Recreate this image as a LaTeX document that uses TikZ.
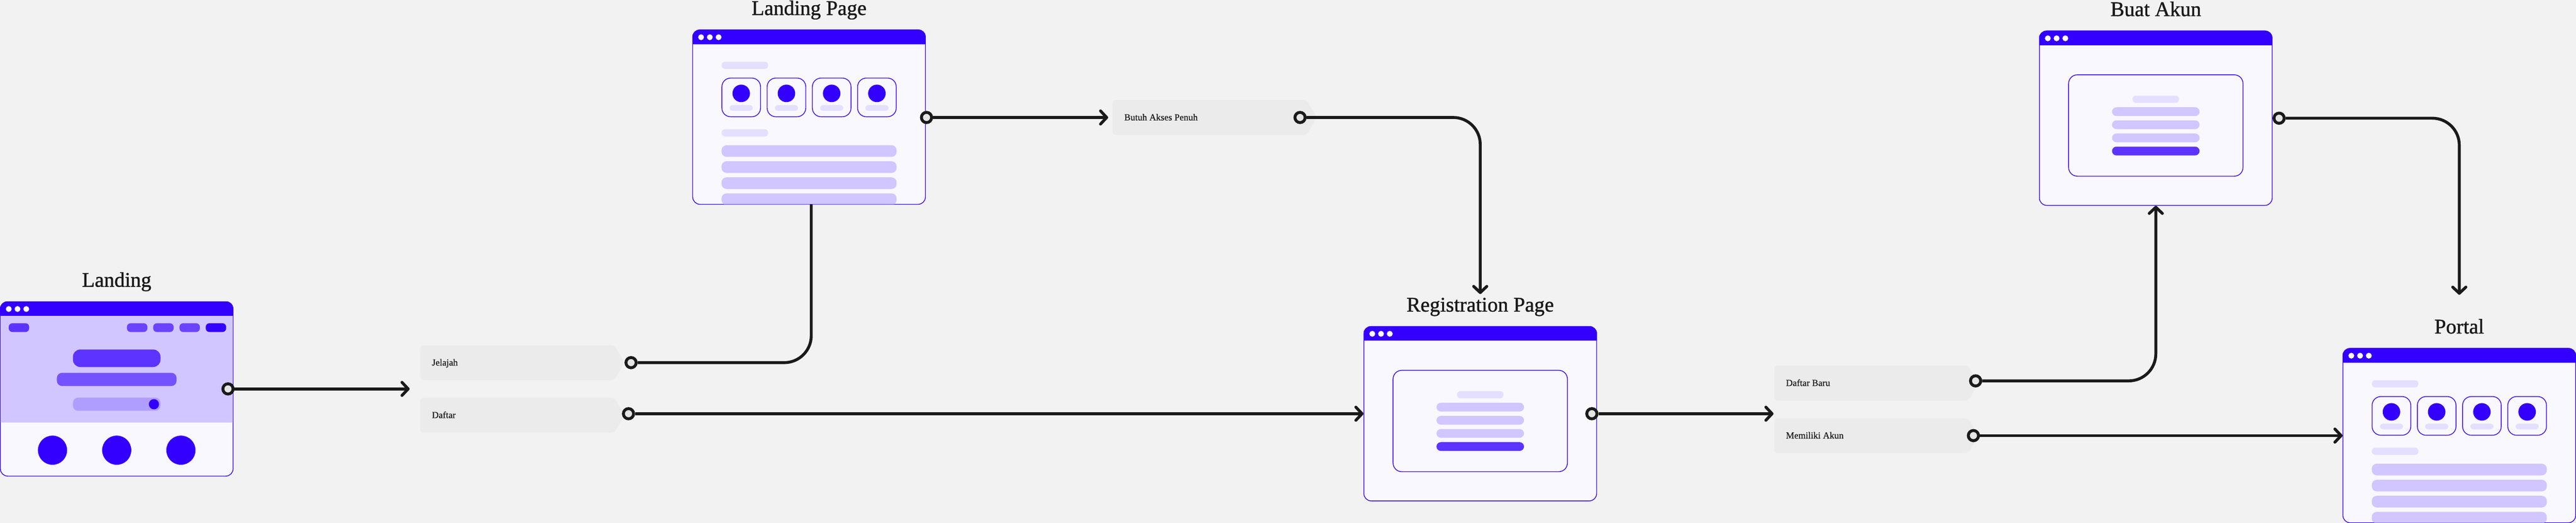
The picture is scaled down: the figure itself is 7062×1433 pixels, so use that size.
\documentclass[tikz,border=0pt]{standalone}
\usepackage{fontspec}
\setmainfont{Liberation Serif}
\newfontfamily\titlefont[FakeBold=1.2]{Liberation Serif}
\newfontfamily\tagfont[FakeBold=0.8]{Liberation Serif}
\usepackage{tikz}
\usetikzlibrary{arrows.meta}
\definecolor{winblue}{HTML}{3300FF}
\definecolor{winpaper}{HTML}{F9F8FF}
\definecolor{barpale}{HTML}{E5DFFF}
\definecolor{barsoft}{HTML}{D1C6FF}
\definecolor{barmid}{HTML}{B09EFF}
\definecolor{barstrong}{HTML}{5C33FF}
\definecolor{barlight}{HTML}{7452FF}
\definecolor{ink}{HTML}{1A1A1A}
\tikzset{
  winframe/.style={draw=winblue, fill=winpaper, line width=2pt, rounded corners=20pt, minimum width=638pt, minimum height=478pt, inner sep=0pt},
  wintitle/.style={text=ink, font=\titlefont\fontsize{57}{62}\selectfont, inner sep=0pt},
  boxline/.style={draw=winblue, fill=winpaper, line width=2pt, rounded corners=24pt},
  tagfill/.style={fill=black!8, rounded corners=10pt},
  taglabel/.style={text=ink, font=\tagfont\fontsize{25.5}{30}\selectfont, inner sep=0pt, text height=16pt, text depth=0pt},
  port/.style={draw=ink, fill=black!10, line width=8pt, circle, minimum size=28pt, inner sep=0pt},
  flow/.style={draw=ink, line width=8pt, rounded corners=74pt},
  flowarrow/.style={flow, -{Straight Barb[length=17pt, width=36pt, round]}}
}
\begin{document}
\begin{tikzpicture}[x=1pt, y=-1pt]
  \useasboundingbox (0,0) rectangle (7062,1433);
  \fill[black!5] (0,0) rectangle (7062,1433);

  % Browser windows with their titles
  \foreach \wname/\wx/\wy/\wtitle in {landing/0/826/Landing, lpage/1898/81/Landing Page, regpage/3738/894/Registration Page, akun/5590/84/Buat Akun, portal/6422/954/Portal} {
    \begin{scope}[shift={(\wx,\wy)}]
      \node[winframe] (\wname) at (320,240) {};
      \node[wintitle, anchor=base] (\wname title) at (320,-40) {\wtitle};
      \begin{scope}
        \clip[rounded corners=20pt] (0,0) rectangle (640,480);
        \fill[winblue] (0,0) rectangle (640,40);
      \end{scope}
      \foreach \dotx in {24,48,72} {
        \fill[white] (\dotx,21) circle (8pt);
      }
    \end{scope}
  }

  % Landing window content
  \fill[barsoft] (2,866) rectangle (638,1158);
  \fill[barstrong, rounded corners=10pt] (24,886) rectangle +(56,24);
  \foreach \navx in {348,420,492} {
    \fill[barstrong!92!white, rounded corners=10pt] (\navx,886) rectangle +(56,24);
  }
  \fill[winblue, rounded corners=10pt] (564,886) rectangle +(56,24);
  \fill[barstrong, rounded corners=20pt] (200,958) rectangle +(240,48);
  \fill[barlight, rounded corners=14pt] (156,1022) rectangle +(328,36);
  \fill[barmid, rounded corners=14pt] (200,1090) rectangle +(240,36);
  \fill[winblue] (422,1108) circle (14pt);
  \foreach \dotx in {144,320,496} {
    \fill[winblue] (\dotx,1234) circle (40pt);
  }

  % Windows with four cards
  \foreach \wx/\wy in {1898/81, 6422/954} {
    \begin{scope}[shift={(\wx,\wy)}]
      \fill[barpale, rounded corners=10pt] (80,88) rectangle +(128,20);
      \foreach \cardx in {80,204,328,452} {
        \draw[boxline] (\cardx+1,133) rectangle +(106,106);
        \fill[winblue] (\cardx+54,175) circle (24pt);
        \fill[barpale, rounded corners=8pt] (\cardx+22,207) rectangle +(64,16);
      }
      \fill[barpale, rounded corners=10pt] (80,273) rectangle +(128,20);
      \clip[rounded corners=20pt] (0,0) rectangle (640,479);
      \foreach \bary in {317,361,405,449} {
        \fill[barsoft, rounded corners=14pt] (80,\bary) rectangle +(480,32);
      }
    \end{scope}
  }

  % Windows with a centred form
  \foreach \wx/\wy in {3738/894, 5590/84} {
    \begin{scope}[shift={(\wx,\wy)}]
      \draw[boxline] (81,121) rectangle +(478,278);
      \fill[barpale, rounded corners=10pt] (256,178) rectangle +(128,20);
      \foreach \bary in {210,246,282} {
        \fill[barsoft, rounded corners=12pt] (200,\bary) rectangle +(240,24);
      }
      \fill[barstrong, rounded corners=12pt] (200,318) rectangle +(240,24);
    \end{scope}
  }

  % Tags
  \foreach \tname/\tx/\ty/\ttext in {jelajah/1152/994/Jelajah, daftar/1152/1138/Daftar, butuh/3050/322/Butuh Akses Penuh, baru/4864/1050/Daftar Baru, memiliki/4864/1194/Memiliki Akun} {
    \fill[tagfill] (\tx,\ty-48) -- (\tx+532,\ty-48) -- (\tx+560,\ty) -- (\tx+532,\ty+48) -- (\tx,\ty+48) -- cycle;
    \node[taglabel, anchor=west] (\tname) at (\tx+32,\ty) {\ttext};
  }

  % Ports
  \node[port] (plan) at (625,1066) {};
  \node[port] (plpage) at (2540,322) {};
  \node[port] (pjelajah) at (1730,994) {};
  \node[port] (pdaftar) at (1723,1134) {};
  \node[port] (pbutuh) at (3564,322) {};
  \node[port] (preg) at (4364,1134) {};
  \node[port] (pbaru) at (5416,1044) {};
  \node[port] (pmemiliki) at (5410,1194) {};
  \node[port] (pakun) at (6248,324) {};

  % Free ends
  \coordinate (endlan) at (1123,1066);
  \coordinate (droplp) at (2224,560);
  \coordinate (endlp) at (3038,322);
  \coordinate (endbutuh) at (4058,806);
  \coordinate (endreg) at (4862,1134);
  \coordinate (endakun) at (6742,808);

  % Connectors
  \draw[flowarrow] (plan) -- (endlan);
  \draw[flow] (pjelajah) -| (droplp);
  \draw[flowarrow] (pdaftar) -- (regpage.west);
  \draw[flowarrow] (plpage) -- (endlp);
  \draw[flowarrow] (pbutuh) -| (endbutuh);
  \draw[flowarrow] (preg) -- (endreg);
  \draw[flowarrow] (pbaru) -| (akun.south);
  \draw[flowarrow] (pmemiliki) -- (portal.west);
  \draw[flowarrow] (pakun) -| (endakun);
\end{tikzpicture}
\end{document}
